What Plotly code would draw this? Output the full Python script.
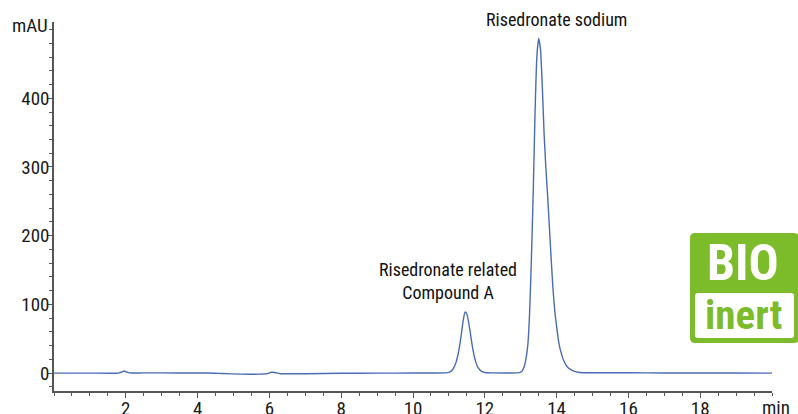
import plotly.graph_objects as go

# ---- data ----
time_min = [0.0, 1.0, 1.8, 1.88, 1.95, 2.02, 2.1, 2.5, 3.5, 4.3, 4.7, 5.2, 5.7, 5.95, 6.05,
            6.15, 6.3, 7.0, 8.0, 9.0, 10.0, 10.6, 10.9, 11.0, 11.1, 11.2, 11.25, 11.3, 11.35,
            11.4, 11.45, 11.5, 11.55, 11.6, 11.65, 11.7, 11.75, 11.8, 11.9, 12.0, 12.2, 12.6,
            12.9, 13.0, 13.05, 13.1, 13.15, 13.2, 13.25, 13.3, 13.35, 13.4, 13.45, 13.5, 13.55,
            13.6, 13.65, 13.7, 13.75, 13.8, 13.85, 13.9, 13.95, 14.0, 14.05, 14.1, 14.2, 14.3,
            14.4, 14.5, 14.6, 14.75, 15.0, 16.0, 17.0, 18.0, 19.0, 20.0]
absorbance_mAU = [0.0, 0.0, 0.1, 1.5, 3.0, 1.8, 0.3, 0.4, 0.3, 0.2, -0.6, -1.5, -1.5, -0.8, 1.2,
                  1.0, -0.8, -0.8, -0.2, 0.0, 0.1, 0.2, 0.4, 1.0, 5.0, 16.0, 26.0, 40.0, 58.0,
                  77.0, 89.0, 86.0, 74.0, 57.0, 40.0, 26.0, 16.0, 9.0, 3.0, 1.0, 0.4, 0.3,
                  0.4, 1.5, 4.0, 10.0, 22.0, 42.0, 90.0, 170.0, 265.0, 380.0, 460.0, 487.0, 472.0,
                  420.0, 350.0, 300.0, 258.0, 212.0, 165.0, 122.0, 90.0, 68.0, 48.0, 35.0, 18.0, 9.0,
                  5.0, 2.5, 1.2, 0.6, 0.5, 0.5, 0.3, 0.2, 0.1, 0.0]

x_tick_vals = [2, 4, 6, 8, 10, 12, 14, 16, 18]
y_tick_vals = [0, 100, 200, 300, 400]

peak_labels = ["Risedronate related<br>Compound A", "Risedronate sodium"]

FONT = "Roboto Condensed, Liberation Sans Narrow, Arial Narrow, Roboto, sans-serif"
GREEN = "#7cbb2a"
AXIS_COLOR = "#555555"

fig = go.Figure()
fig.add_trace(go.Scatter(
    x=time_min, y=absorbance_mAU, mode="lines",
    line=dict(color="#4a6cb3", width=1.4, shape="spline", smoothing=0.5),
    hoverinfo="x+y", showlegend=False,
))

axis_common = dict(
    showgrid=False, zeroline=False, showline=True, linecolor=AXIS_COLOR, linewidth=1.5,
    ticks="outside", ticklen=5, tickcolor=AXIS_COLOR, tickwidth=1.2, automargin=False,
    tickfont=dict(family=FONT, size=19, color="#1a1a1a"),
)

fig.update_xaxes(range=[0, 20], tickvals=x_tick_vals, ticklabelstandoff=-6,
                 minor=dict(dtick=0.5, tick0=0, ticks="outside", ticklen=3, tickcolor=AXIS_COLOR),
                 **axis_common)
fig.update_yaxes(range=[-26, 511], tickvals=y_tick_vals, ticklabelstandoff=-6,
                 minor=dict(dtick=20, tick0=0, ticks="outside", ticklen=3, tickcolor=AXIS_COLOR),
                 **axis_common)

# Pixel positions converted to paper coords
PL, PW, PT, PH = 54, 718, 22, 369
def px(x):
    return (x - PL) / PW
def py(y):
    return (PT + PH - y) / PH

# Peak labels
fig.add_annotation(x=px(556), y=py(20), xref="paper", yref="paper",
                   text=peak_labels[1], showarrow=False, xanchor="center", yanchor="middle",
                   font=dict(family=FONT, size=18, color="#111"))
fig.add_annotation(x=10.98, y=134, xref="x", yref="y",
                   text=peak_labels[0], showarrow=False, yanchor="middle",
                   font=dict(family=FONT, size=18, color="#111"))

# Unit labels
fig.add_annotation(x=px(50), y=py(26), xref="paper", yref="paper", text="mAU", showarrow=False,
                   xanchor="right", yanchor="middle",
                   font=dict(family=FONT, size=19, color="#1a1a1a"))
fig.add_annotation(x=px(776), y=py(407), xref="paper", yref="paper", text="min", showarrow=False,
                   xanchor="center", yanchor="middle",
                   font=dict(family=FONT, size=19, color="#1a1a1a"))

# BIO inert badge
def rounded(x0, y0, x1, y1, r):
    return (f"M {px(x0 + r)},{py(y0)} L {px(x1 - r)},{py(y0)} Q {px(x1)},{py(y0)} {px(x1)},{py(y0 + r)} "
            f"L {px(x1)},{py(y1 - r)} Q {px(x1)},{py(y1)} {px(x1 - r)},{py(y1)} "
            f"L {px(x0 + r)},{py(y1)} Q {px(x0)},{py(y1)} {px(x0)},{py(y1 - r)} "
            f"L {px(x0)},{py(y0 + r)} Q {px(x0)},{py(y0)} {px(x0 + r)},{py(y0)} Z")

fig.add_shape(type="path", xref="paper", yref="paper", path=rounded(690, 233, 799, 343, 5),
              fillcolor=GREEN, line=dict(width=0), layer="above")
fig.add_shape(type="path", xref="paper", yref="paper", path=rounded(695, 293, 794, 338, 3),
              fillcolor="white", line=dict(width=0), layer="above")
fig.add_annotation(x=px(743), y=py(263), xref="paper", yref="paper", text="<b>BIO</b>",
                   showarrow=False, xanchor="center", yanchor="middle",
                   font=dict(family=FONT, size=50, color="white"))
fig.add_annotation(x=px(743), y=py(315), xref="paper", yref="paper", text="<b>inert</b>",
                   showarrow=False, xanchor="center", yanchor="middle",
                   font=dict(family=FONT, size=41, color=GREEN))

fig.update_layout(
    width=798, height=414,
    margin=dict(l=54, r=26, t=22, b=23, autoexpand=False),
    paper_bgcolor="white", plot_bgcolor="white",
    showlegend=False,
)

fig.write_html("out.html", config={"displayModeBar": False},
               post_script="document.body.style.margin='0';")
